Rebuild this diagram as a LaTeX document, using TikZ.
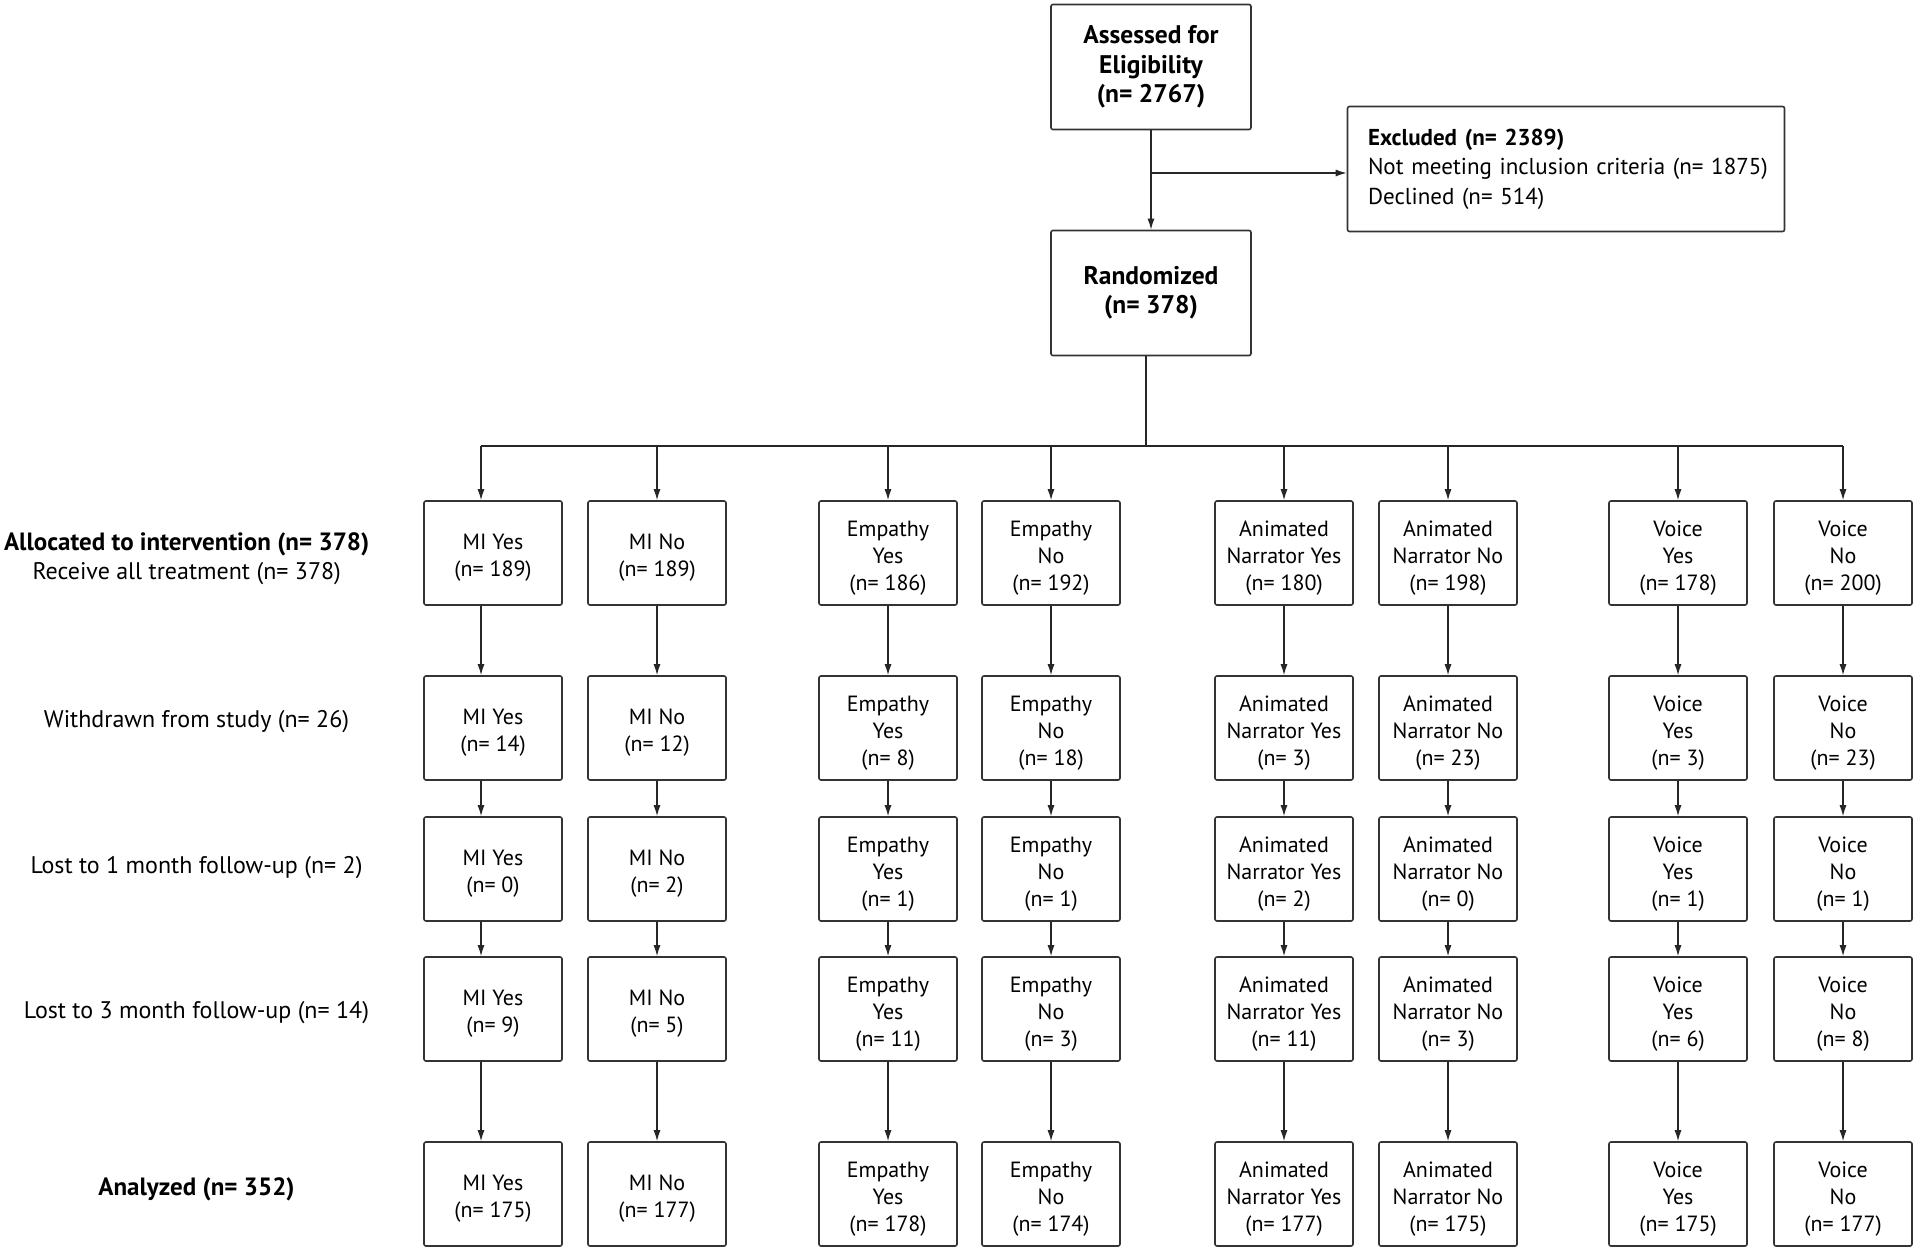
\documentclass[tikz,border=0pt]{standalone}
\usepackage{fontspec}
\setmainfont{PT Sans}
\usetikzlibrary{arrows.meta}
\tikzset{
  boxs/.style={draw=black!80, line width=1.6pt, rounded corners=2pt, align=center, inner sep=0pt, fill=white},
  smallbox/.style={boxs, minimum width=138pt, minimum height=104pt},
  boxtxt/.style={align=center, inner sep=0pt, yshift=-5pt, font=\fontsize{22}{27}\selectfont},
  bigbox/.style={boxs, minimum width=200pt, minimum height=125pt, font=\bfseries\fontsize{25.5}{29.4}\selectfont},
  arr/.style={draw=black!85, line width=1.3pt, -{Latex[length=11pt,width=7pt]}},
  ln/.style={draw=black!85, line width=1.3pt},
  lab/.style={align=center, inner sep=0pt, font=\fontsize{24}{29.4}\selectfont}
}
\newcommand\cbox[4]{\node[smallbox, label={[boxtxt]center:{#4}}] (#1) at (#2,#3) {};}
\begin{document}
\begin{tikzpicture}[x=1pt,y=-1pt]
\useasboundingbox (0,0) rectangle (1920,1252);
\node[bigbox] (assess) at (1151,67) {Assessed for\\Eligibility\\(n= 2767)};
\node[boxs, minimum width=437pt, minimum height=125pt, align=left, text width=420pt, font=\fontsize{23}{29.4}\selectfont] (excl) at (1566,169)
  {\hspace*{12pt}\textbf{Excluded (n= 2389)}\\\hspace*{12pt}Not meeting inclusion criteria (n= 1875)\\\hspace*{12pt}Declined (n= 514)};
\node[bigbox] (rand) at (1151,293) {Randomized\\(n= 378)};
\draw[arr] (assess.south) -- (rand.north);
\coordinate (split) at (1151,173);
\draw[arr] (split) -- (excl.west |- split);
\coordinate (bus) at (1146,446);
\coordinate (busL) at (481,446);
\coordinate (busR) at (1843,446);
\draw[ln] (rand.south -| bus) -- (bus);
\draw[ln] (busL) -- (busR);

% left labels
\node[lab] (l1) at (186.7,559) {{\bfseries\fontsize{25}{29.4}\selectfont Allocated to intervention (n= 378)}\\Receive all treatment (n= 378)};
\node[lab] (l2) at (196.5,722) {Withdrawn from study (n= 26)};
\node[lab] (l3) at (196.5,868) {Lost to 1 month follow-up (n= 2)};
\node[lab] (l4) at (196.5,1013) {Lost to 3 month follow-up (n= 14)};
\node[lab, font=\bfseries\fontsize{25}{29.4}\selectfont] (l5) at (196.5,1189) {Analyzed (n= 352)};

% row 1
\cbox{a1}{493}{553}{MI Yes\\(n= 189)}
\cbox{b1}{657}{553}{MI No\\(n= 189)}
\cbox{c1}{888}{553}{Empathy\\Yes\\(n= 186)}
\cbox{d1}{1051}{553}{Empathy\\No\\(n= 192)}
\cbox{e1}{1284}{553}{Animated\\Narrator Yes\\(n= 180)}
\cbox{f1}{1448}{553}{Animated\\Narrator No\\(n= 198)}
\cbox{g1}{1678}{553}{Voice\\Yes\\(n= 178)}
\cbox{h1}{1843}{553}{Voice\\No\\(n= 200)}
% row 2
\cbox{a2}{493}{728}{MI Yes\\(n= 14)}
\cbox{b2}{657}{728}{MI No\\(n= 12)}
\cbox{c2}{888}{728}{Empathy\\Yes\\(n= 8)}
\cbox{d2}{1051}{728}{Empathy\\No\\(n= 18)}
\cbox{e2}{1284}{728}{Animated\\Narrator Yes\\(n= 3)}
\cbox{f2}{1448}{728}{Animated\\Narrator No\\(n= 23)}
\cbox{g2}{1678}{728}{Voice\\Yes\\(n= 3)}
\cbox{h2}{1843}{728}{Voice\\No\\(n= 23)}
% row 3
\cbox{a3}{493}{869}{MI Yes\\(n= 0)}
\cbox{b3}{657}{869}{MI No\\(n= 2)}
\cbox{c3}{888}{869}{Empathy\\Yes\\(n= 1)}
\cbox{d3}{1051}{869}{Empathy\\No\\(n= 1)}
\cbox{e3}{1284}{869}{Animated\\Narrator Yes\\(n= 2)}
\cbox{f3}{1448}{869}{Animated\\Narrator No\\(n= 0)}
\cbox{g3}{1678}{869}{Voice\\Yes\\(n= 1)}
\cbox{h3}{1843}{869}{Voice\\No\\(n= 1)}
% row 4
\cbox{a4}{493}{1009}{MI Yes\\(n= 9)}
\cbox{b4}{657}{1009}{MI No\\(n= 5)}
\cbox{c4}{888}{1009}{Empathy\\Yes\\(n= 11)}
\cbox{d4}{1051}{1009}{Empathy\\No\\(n= 3)}
\cbox{e4}{1284}{1009}{Animated\\Narrator Yes\\(n= 11)}
\cbox{f4}{1448}{1009}{Animated\\Narrator No\\(n= 3)}
\cbox{g4}{1678}{1009}{Voice\\Yes\\(n= 6)}
\cbox{h4}{1843}{1009}{Voice\\No\\(n= 8)}
% row 5
\cbox{a5}{493}{1194}{MI Yes\\(n= 175)}
\cbox{b5}{657}{1194}{MI No\\(n= 177)}
\cbox{c5}{888}{1194}{Empathy\\Yes\\(n= 178)}
\cbox{d5}{1051}{1194}{Empathy\\No\\(n= 174)}
\cbox{e5}{1284}{1194}{Animated\\Narrator Yes\\(n= 177)}
\cbox{f5}{1448}{1194}{Animated\\Narrator No\\(n= 175)}
\cbox{g5}{1678}{1194}{Voice\\Yes\\(n= 175)}
\cbox{h5}{1843}{1194}{Voice\\No\\(n= 177)}

% column MI Yes: connectors sit left of the box centre, as in the reference
\draw[arr] (busL) -- (busL |- a1.north);
\draw[arr] (busL |- a1.south) -- (busL |- a2.north);
\draw[arr] (busL |- a2.south) -- (busL |- a3.north);
\draw[arr] (busL |- a3.south) -- (busL |- a4.north);
\draw[arr] (busL |- a4.south) -- (busL |- a5.north);
\foreach \c in {b,c,d,e,f,g,h}{
  \draw[arr] (busL -| \c1.north) -- (\c1.north);
  \draw[arr] (\c1.south) -- (\c2.north);
  \draw[arr] (\c2.south) -- (\c3.north);
  \draw[arr] (\c3.south) -- (\c4.north);
  \draw[arr] (\c4.south) -- (\c5.north);
}
\end{tikzpicture}
\end{document}
